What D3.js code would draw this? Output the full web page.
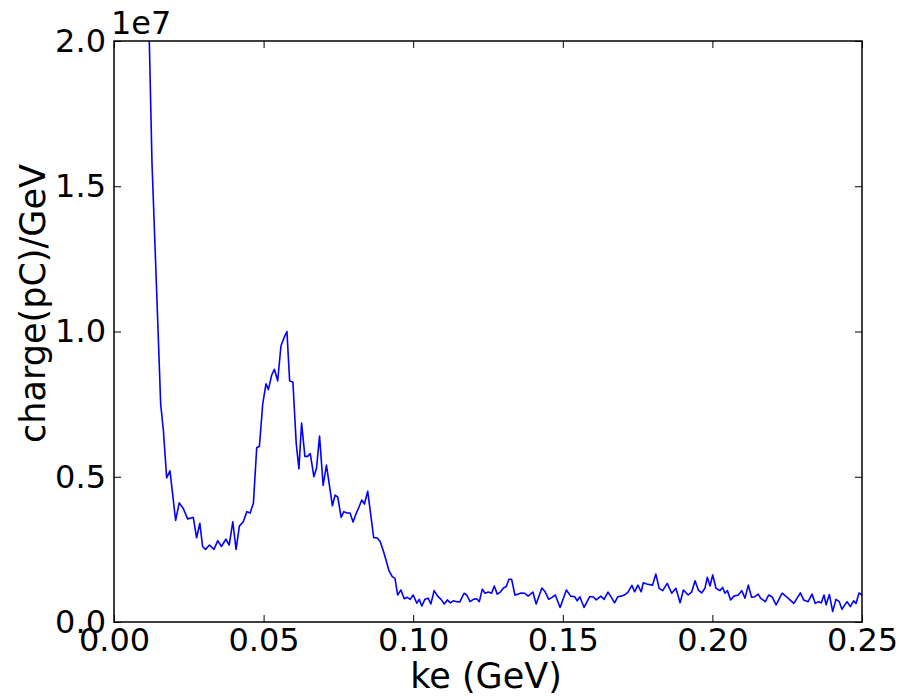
<!DOCTYPE html>
<html>
<head>
<meta charset="utf-8">
<script src="https://cdn.jsdelivr.net/npm/d3@7"></script>
<style>
  body { margin: 0; background: #fff; }
  text { font-family: "DejaVu Sans", sans-serif; fill: #000; }
</style>
</head>
<body>
<script>
// kinetic energy (GeV)
var ke = [0.0105, 0.0118, 0.0127, 0.0146, 0.0156, 0.0165, 0.0176, 0.0187, 0.0206, 0.0218,
  0.0232, 0.0246, 0.0265, 0.0276, 0.0287, 0.0296, 0.0306, 0.0319, 0.0334, 0.0347,
  0.0359, 0.0374, 0.0385, 0.0397, 0.0408, 0.0419, 0.0432, 0.0444, 0.0455, 0.0466,
  0.0477, 0.0486, 0.0497, 0.0508, 0.0516, 0.0527, 0.0536, 0.0547, 0.0558, 0.0569,
  0.0578, 0.0587, 0.0598, 0.0609, 0.0618, 0.0627, 0.0638, 0.0647, 0.0656, 0.0668,
  0.0677, 0.0687, 0.0699, 0.0710, 0.0720, 0.0730, 0.0739, 0.0748, 0.0759, 0.0768,
  0.0779, 0.0789, 0.0799, 0.0810, 0.0819, 0.0828, 0.0837, 0.0848, 0.0859, 0.0868,
  0.0879, 0.0890, 0.0901, 0.0910, 0.0919, 0.0930, 0.0939, 0.0948, 0.0959, 0.0970,
  0.0980, 0.0990, 0.1000, 0.1012, 0.1020, 0.1029, 0.1039, 0.1050, 0.1059, 0.1070,
  0.1081, 0.1093, 0.1104, 0.1114, 0.1124, 0.1134, 0.1145, 0.1156, 0.1170, 0.1179,
  0.1190, 0.1201, 0.1212, 0.1221, 0.1231, 0.1240, 0.1251, 0.1262, 0.1271, 0.1281,
  0.1291, 0.1302, 0.1311, 0.1320, 0.1329, 0.1340, 0.1351, 0.1361, 0.1373, 0.1384,
  0.1400, 0.1411, 0.1430, 0.1441, 0.1453, 0.1464, 0.1475, 0.1491, 0.1512, 0.1526,
  0.1540, 0.1548, 0.1557, 0.1571, 0.1590, 0.1601, 0.1612, 0.1627, 0.1638, 0.1651,
  0.1660, 0.1673, 0.1684, 0.1695, 0.1709, 0.1718, 0.1731, 0.1740, 0.1751, 0.1762,
  0.1769, 0.1780, 0.1800, 0.1811, 0.1822, 0.1834, 0.1849, 0.1864, 0.1878, 0.1892,
  0.1903, 0.1919, 0.1931, 0.1942, 0.1953, 0.1964, 0.1975, 0.1983, 0.1992, 0.2001,
  0.2012, 0.2025, 0.2034, 0.2042, 0.2050, 0.2061, 0.2072, 0.2087, 0.2098, 0.2109,
  0.2120, 0.2131, 0.2142, 0.2153, 0.2161, 0.2177, 0.2188, 0.2199, 0.2213, 0.2233,
  0.2250, 0.2272, 0.2294, 0.2305, 0.2320, 0.2333, 0.2344, 0.2355, 0.2364, 0.2373,
  0.2380, 0.2391, 0.2402, 0.2413, 0.2424, 0.2433, 0.2450, 0.2461, 0.2472, 0.2480,
  0.2490, 0.2500];

// charge(pC)/GeV in units of 1e6
var charge = [23.0, 20.0, 15.8, 10.4, 7.5, 6.6, 4.96, 5.2, 3.5, 4.1,
  3.9, 3.55, 3.6, 2.9, 3.4, 2.6, 2.5, 2.65, 2.5, 2.8,
  2.6, 2.85, 2.65, 3.45, 2.5, 3.3, 3.45, 3.8, 3.75, 4.1,
  6.0, 6.05, 7.5, 8.2, 8.0, 8.5, 8.7, 8.3, 9.5, 9.8,
  10.0, 8.3, 8.25, 6.15, 5.27, 6.85, 5.7, 5.7, 5.8, 5.0,
  5.3, 6.4, 4.7, 5.4, 4.7, 4.0, 4.37, 4.3, 3.6, 3.8,
  3.75, 3.75, 3.44, 3.75, 3.96, 4.2, 4.06, 4.5, 3.62, 2.9,
  2.9, 2.76, 2.42, 2.1, 1.77, 1.56, 1.5, 0.93, 1.1, 0.8,
  0.85, 0.78, 0.93, 0.65, 0.78, 0.55, 0.78, 0.82, 0.62, 1.08,
  0.9, 0.78, 0.62, 0.76, 0.66, 0.73, 0.7, 0.69, 0.99, 0.93,
  0.7, 0.78, 0.8, 0.7, 1.13, 0.99, 1.03, 0.99, 1.24, 0.96,
  1.03, 1.17, 1.22, 1.47, 1.47, 0.93, 0.96, 1.0, 0.99, 0.89,
  1.03, 0.62, 1.17, 1.04, 0.78, 0.85, 0.93, 0.5, 1.1, 0.89,
  0.87, 0.73, 0.87, 0.5, 0.87, 0.87, 0.76, 0.89, 0.78, 1.03,
  0.89, 0.66, 0.87, 0.89, 0.95, 1.03, 1.26, 1.04, 1.27, 1.04,
  1.35, 1.31, 1.27, 1.65, 1.16, 1.08, 1.33, 0.99, 1.16, 0.66,
  1.1, 0.93, 1.04, 1.42, 1.1, 1.0, 1.16, 1.54, 1.24, 1.62,
  1.16, 1.08, 1.19, 0.99, 1.08, 0.76, 0.89, 0.93, 1.08, 0.82,
  1.27, 0.85, 0.87, 0.96, 0.82, 0.7, 0.93, 0.87, 0.59, 0.99,
  0.85, 0.64, 1.0, 0.76, 0.7, 0.96, 0.64, 0.7, 0.66, 0.93,
  0.59, 0.95, 0.36, 0.78, 0.7, 0.44, 0.7, 0.53, 0.73, 0.64,
  1.0, 0.93];

var xTicks = [0.00, 0.05, 0.10, 0.15, 0.20, 0.25];
var yTicks = [0, 0.5e7, 1.0e7, 1.5e7, 2.0e7];

var W = 904, H = 696;
var margin = {top: 41, right: 42, bottom: 74, left: 114};
var width = W - margin.left - margin.right;
var height = H - margin.top - margin.bottom;

var svg = d3.select("body").append("svg")
    .attr("width", W)
    .attr("height", H);

var g = svg.append("g")
    .attr("transform", "translate(" + margin.left + "," + margin.top + ")");

var x = d3.scaleLinear().domain([0, 0.25]).range([0, width]);
var y = d3.scaleLinear().domain([0, 2.0e7]).range([height, 0]);

g.append("clipPath").attr("id", "clip")
  .append("rect").attr("width", width).attr("height", height);

var data = ke.map(function(k, i) { return {ke: k, q: charge[i] * 1e6}; });

var line = d3.line()
    .x(function(d) { return x(d.ke); })
    .y(function(d) { return y(d.q); });

g.append("path")
    .datum(data)
    .attr("clip-path", "url(#clip)")
    .attr("fill", "none")
    .attr("stroke", "#0000ff")
    .attr("stroke-width", 1.6)
    .attr("stroke-linejoin", "round")
    .attr("d", line);

// axes, matplotlib style: ticks pointing inwards on all four sides
var tickLen = 7;
var fmtX = d3.format(".2f");
var fmtY = function(v) { return (v / 1e7).toFixed(1); };

var axBottom = g.append("g").attr("transform", "translate(0," + height + ")")
    .call(d3.axisBottom(x).tickValues(xTicks).tickFormat(fmtX).tickSizeInner(-tickLen).tickSizeOuter(0).tickPadding(6));
var axTop = g.append("g")
    .call(d3.axisTop(x).tickValues(xTicks).tickFormat("").tickSizeInner(-tickLen).tickSizeOuter(0));
var axLeft = g.append("g")
    .call(d3.axisLeft(y).tickValues(yTicks).tickFormat(fmtY).tickSizeInner(-tickLen).tickSizeOuter(0).tickPadding(8));
var axRight = g.append("g").attr("transform", "translate(" + width + ",0)")
    .call(d3.axisRight(y).tickValues(yTicks).tickFormat("").tickSizeInner(-tickLen).tickSizeOuter(0));

[axBottom, axTop, axLeft, axRight].forEach(function(a) {
  a.select(".domain").remove();
  a.selectAll("line").attr("stroke", "#000").attr("stroke-width", 1);
  a.selectAll("text").style("font-size", "32px").style("font-family", "DejaVu Sans").attr("fill", "#000");
});

// frame
g.append("rect")
    .attr("width", width).attr("height", height)
    .attr("fill", "none").attr("stroke", "#000").attr("stroke-width", 1.5);

// offset text
svg.append("text")
    .attr("x", margin.left - 3).attr("y", 34)
    .style("font-size", "32px")
    .text("1e7");

svg.append("text")
    .attr("x", margin.left + width / 2 - 2).attr("y", 688)
    .attr("text-anchor", "middle")
    .style("font-size", "35px")
    .text("ke (GeV)");

svg.append("text")
    .attr("transform", "translate(45," + (margin.top + height / 2 - 28) + ") rotate(-90)")
    .attr("text-anchor", "middle")
    .style("font-size", "35px")
    .text("charge(pC)/GeV");
</script>
</body>
</html>
